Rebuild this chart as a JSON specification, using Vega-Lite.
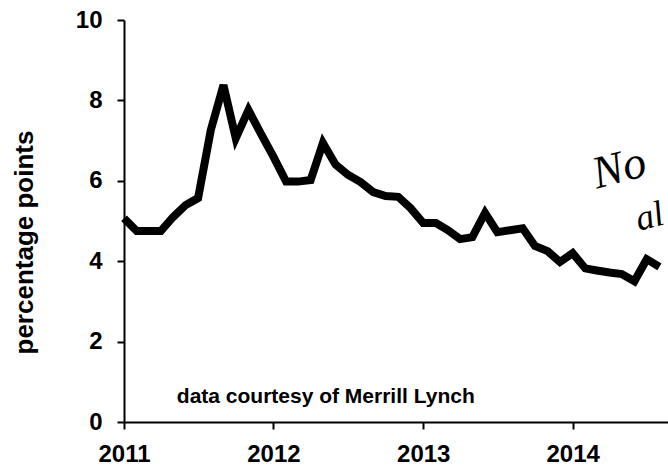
{
  "$schema": "https://vega.github.io/schema/vega-lite/v6.json",
  "width": 544,
  "height": 402,
  "autosize": {"type": "none"},
  "padding": {"left": 124, "top": 20, "right": 0, "bottom": 46},
  "background": "white",
  "config": {
    "view": {"stroke": null},
    "font": "Liberation Sans",
    "axis": {
      "grid": false,
      "domainColor": "black",
      "domainWidth": 2,
      "tickColor": "black",
      "tickWidth": 2,
      "tickSize": 7,
      "labelFont": "Liberation Sans",
      "labelFontSize": 24,
      "labelFontWeight": "bold",
      "labelColor": "black",
      "labelFlush": false,
      "labelOverlap": false
    }
  },
  "layer": [
    {
      "data": {
        "values": [
          {"date": "2011-01-01", "value": 5.07},
          {"date": "2011-02-01", "value": 4.75},
          {"date": "2011-03-01", "value": 4.75},
          {"date": "2011-04-01", "value": 4.75},
          {"date": "2011-05-01", "value": 5.1},
          {"date": "2011-06-01", "value": 5.4},
          {"date": "2011-07-01", "value": 5.57},
          {"date": "2011-08-01", "value": 7.26},
          {"date": "2011-09-01", "value": 8.38},
          {"date": "2011-10-01", "value": 7.06},
          {"date": "2011-11-01", "value": 7.76},
          {"date": "2011-12-01", "value": 7.18},
          {"date": "2012-01-01", "value": 6.6},
          {"date": "2012-02-01", "value": 5.98},
          {"date": "2012-03-01", "value": 5.98},
          {"date": "2012-04-01", "value": 6.02},
          {"date": "2012-05-01", "value": 6.94},
          {"date": "2012-06-01", "value": 6.4},
          {"date": "2012-07-01", "value": 6.15},
          {"date": "2012-08-01", "value": 5.97},
          {"date": "2012-09-01", "value": 5.72},
          {"date": "2012-10-01", "value": 5.62},
          {"date": "2012-11-01", "value": 5.6},
          {"date": "2012-12-01", "value": 5.32},
          {"date": "2013-01-01", "value": 4.95},
          {"date": "2013-02-01", "value": 4.95},
          {"date": "2013-03-01", "value": 4.78},
          {"date": "2013-04-01", "value": 4.55},
          {"date": "2013-05-01", "value": 4.6},
          {"date": "2013-06-01", "value": 5.2},
          {"date": "2013-07-01", "value": 4.72},
          {"date": "2013-08-01", "value": 4.77},
          {"date": "2013-09-01", "value": 4.82},
          {"date": "2013-10-01", "value": 4.38},
          {"date": "2013-11-01", "value": 4.25},
          {"date": "2013-12-01", "value": 3.98},
          {"date": "2014-01-01", "value": 4.2},
          {"date": "2014-02-01", "value": 3.82},
          {"date": "2014-03-01", "value": 3.77},
          {"date": "2014-04-01", "value": 3.72},
          {"date": "2014-05-01", "value": 3.68},
          {"date": "2014-06-01", "value": 3.5},
          {"date": "2014-07-01", "value": 4.05},
          {"date": "2014-08-01", "value": 3.86}
        ]
      },
      "mark": {"type": "line", "color": "black", "strokeWidth": 8, "strokeJoin": "miter", "strokeCap": "butt"},
      "encoding": {
        "x": {
          "field": "date",
          "type": "temporal",
          "scale": {
            "type": "utc",
            "domain": [
              {"year": 2011, "month": 1, "date": 1, "utc": true},
              {"year": 2014, "month": 8, "date": 22, "utc": true}
            ]
          },
          "axis": {
            "title": null,
            "format": "%Y",
            "values": [
              {"year": 2011, "month": 1, "date": 1, "utc": true},
              {"year": 2012, "month": 1, "date": 1, "utc": true},
              {"year": 2013, "month": 1, "date": 1, "utc": true},
              {"year": 2014, "month": 1, "date": 1, "utc": true}
            ],
            "labelPadding": 13,
            "labelBaseline": "top"
          }
        },
        "y": {
          "field": "value",
          "type": "quantitative",
          "scale": {"domain": [0, 10], "nice": false, "zero": true},
          "axis": {
            "title": "percentage points",
            "values": [0, 2, 4, 6, 8, 10],
            "labelPadding": 15,
            "titleFont": "Liberation Sans",
            "titleFontSize": 26,
            "titleFontWeight": "bold",
            "titleColor": "black",
            "titleAngle": 270,
            "titleAlign": "center",
            "titleBaseline": "alphabetic",
            "titleX": -92,
            "titleY": 222
          }
        }
      }
    },
    {
      "data": {"values": [{"date": "2011-05-10", "value": 0.47, "label": "data courtesy of Merrill Lynch"}]},
      "mark": {"type": "text", "align": "left", "baseline": "alphabetic", "fontSize": 21, "fontWeight": "bold", "font": "Liberation Sans", "color": "black"},
      "encoding": {
        "x": {"field": "date", "type": "temporal"},
        "y": {"field": "value", "type": "quantitative"},
        "text": {"field": "label"}
      }
    },
    {
      "data": {
        "values": [
          {"date": "2014-03-01", "value": 5.8, "label": "No", "size": 46},
          {"date": "2014-06-12", "value": 4.75, "label": "al", "size": 36}
        ]
      },
      "mark": {"type": "text", "align": "left", "baseline": "alphabetic", "font": "Liberation Serif", "fontStyle": "italic", "angle": -15, "color": "black"},
      "encoding": {
        "x": {"field": "date", "type": "temporal"},
        "y": {"field": "value", "type": "quantitative"},
        "text": {"field": "label"},
        "size": {"field": "size", "type": "quantitative", "scale": null}
      }
    }
  ]
}
